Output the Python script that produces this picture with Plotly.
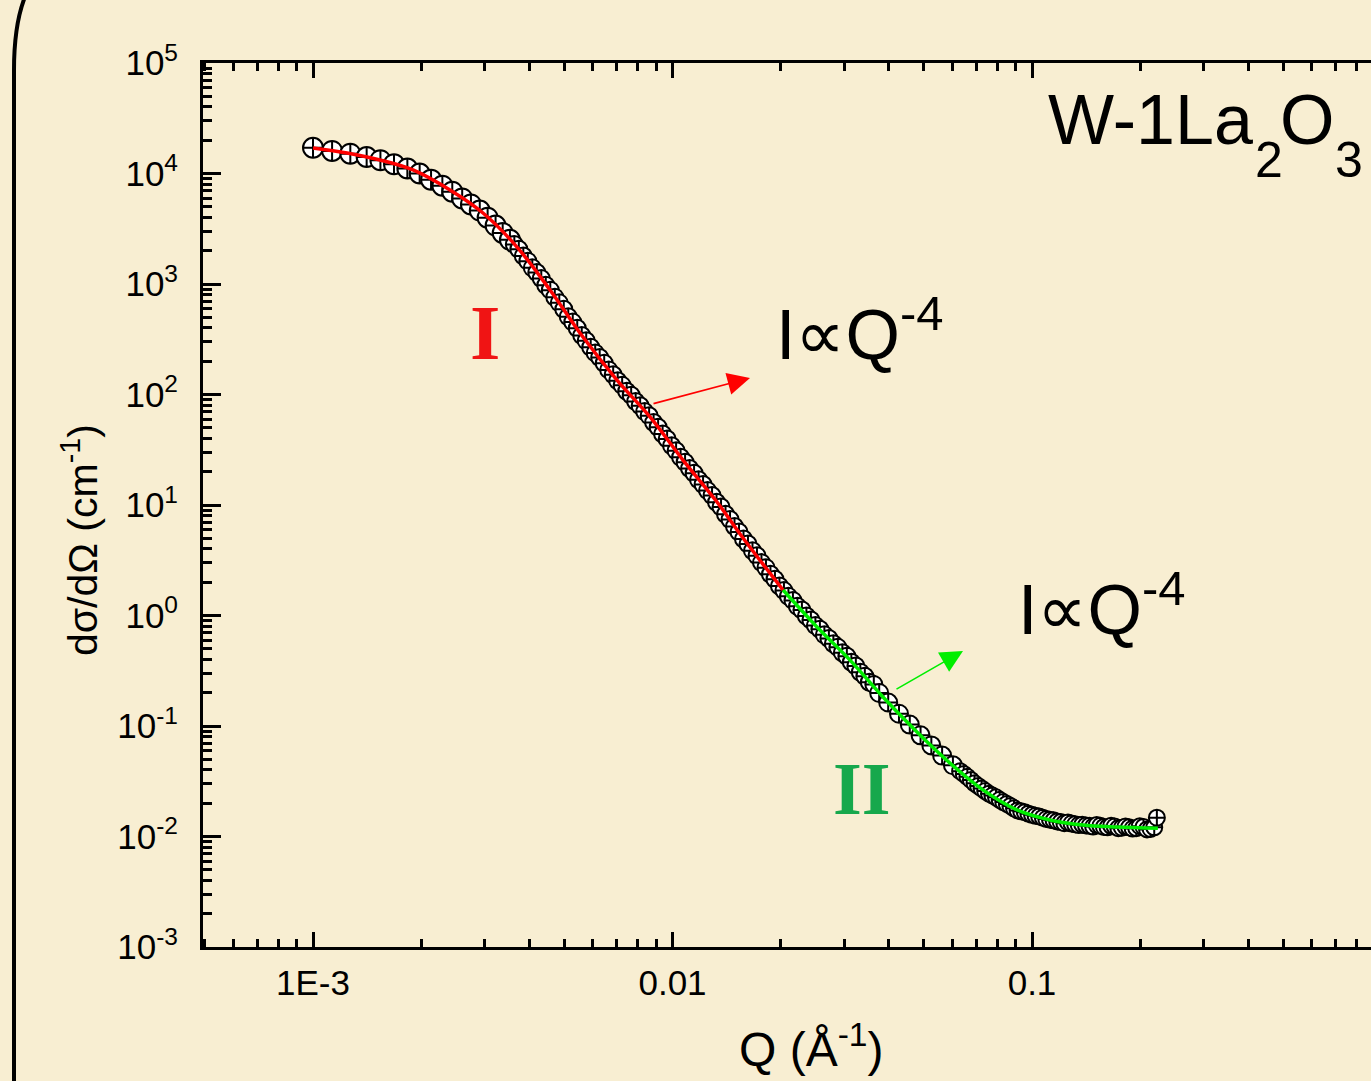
import plotly.graph_objects as go

# ---------------- data ----------------
# low-Q set (large circles)
q_low = [0.00100, 0.00113, 0.00127, 0.00141, 0.00154, 0.00168, 0.00183, 0.00198, 0.00213,
         0.00229, 0.00244, 0.00260, 0.00275, 0.00291, 0.00306, 0.00322, 0.00337, 0.00353]
i_low = [17100, 16000, 15100, 14100, 13200, 12150, 11100, 10000, 8800,
         7750, 6850, 5950, 5250, 4620, 3980, 3380, 2900, 2510]

# mid-Q dense set
q_mid = [0.003631, 0.003737, 0.003846, 0.003958, 0.004074, 0.004193, 0.004315, 0.004441, 0.004571,
         0.004705, 0.004842, 0.004984, 0.005129, 0.005279, 0.005433, 0.005592, 0.005754, 0.005922,
         0.006095, 0.006273, 0.006457, 0.006646, 0.006839, 0.007039, 0.007244, 0.007456, 0.007674,
         0.007898, 0.008128, 0.008366, 0.008610, 0.008861, 0.009120, 0.009387, 0.009661, 0.009943,
         0.010233, 0.010532, 0.010839, 0.011156, 0.011482, 0.011817, 0.012162, 0.012517, 0.012882,
         0.013258, 0.013646, 0.014044, 0.014454, 0.014877, 0.015311, 0.015758, 0.016218, 0.016692,
         0.017179, 0.017681, 0.018197, 0.018728, 0.019275, 0.019837, 0.020417, 0.021013, 0.021627,
         0.022258, 0.022909, 0.023578, 0.024266, 0.024974, 0.025704, 0.026454, 0.027227, 0.028021,
         0.028840, 0.029682, 0.030549, 0.031441, 0.032359, 0.033303, 0.034277, 0.035278, 0.036308]
i_mid = [2280, 2060, 1790, 1610, 1400, 1270, 1120, 975, 880,
         760, 675, 590, 505, 452, 398, 342, 306, 268,
         238, 216, 192, 167, 151, 133, 121, 107, 98.5,
         86.5, 79.2, 70.0, 64.1, 55.8, 50.6, 43.9, 39.6, 34.4,
         31.0, 27.0, 24.4, 21.4, 19.4, 16.9, 15.3, 13.5, 12.2,
         10.6, 9.60, 8.25, 7.40, 6.38, 5.70, 4.93, 4.43, 3.85,
         3.47, 3.01, 2.71, 2.36, 2.13, 1.85, 1.68, 1.49, 1.37,
         1.21, 1.12, 0.99, 0.91, 0.81, 0.75, 0.668, 0.62, 0.555,
         0.515, 0.46, 0.428, 0.378, 0.349, 0.307, 0.282, 0.249, 0.238]

# sparse set
q_sparse = [0.03758, 0.03981, 0.04266, 0.04571, 0.04898, 0.05248, 0.05623, 0.06026]
i_sparse = [0.199, 0.163, 0.129, 0.103, 0.0823, 0.0667, 0.0540, 0.0441]

# high-Q dense set
q_high = [0.0631, 0.0646, 0.0661, 0.0676, 0.0692, 0.0708, 0.0724, 0.0741, 0.0759, 0.0776,
          0.0794, 0.0813, 0.0832, 0.0851, 0.0871, 0.0891, 0.0912, 0.0933, 0.0955, 0.0977,
          0.1000, 0.1023, 0.1047, 0.1072, 0.1096, 0.1122, 0.1148, 0.1175, 0.1202, 0.1230,
          0.1259, 0.1288, 0.1318, 0.1349, 0.1380, 0.1413, 0.1445, 0.1479, 0.1514, 0.1549,
          0.1585, 0.1622, 0.1660, 0.1698, 0.1738, 0.1778, 0.1820, 0.1862, 0.1905, 0.1950,
          0.1995, 0.2042, 0.2089, 0.2138, 0.2188, 0.2225]
i_high = [0.0390, 0.0368, 0.0347, 0.0325, 0.0303, 0.0287, 0.0272, 0.0258, 0.0244, 0.0235,
          0.0226, 0.0215, 0.0205, 0.0197, 0.0189, 0.0180, 0.0172, 0.0169, 0.0166, 0.0161,
          0.0157, 0.0154, 0.0152, 0.0148, 0.0144, 0.0142, 0.0140, 0.0137, 0.0135, 0.0132,
          0.0134, 0.0131, 0.0129, 0.0127, 0.0128, 0.0126, 0.0125, 0.0123, 0.0127, 0.0125,
          0.0122, 0.0121, 0.0125, 0.0123, 0.0119, 0.0120, 0.0123, 0.0121, 0.0118, 0.0119,
          0.0124, 0.0122, 0.0116, 0.0117, 0.0121, 0.0148]

# fits
q_fit_I = [0.00100, 0.001244, 0.001536, 0.001897, 0.002404, 0.002971, 0.003694, 0.004563,
           0.005636, 0.007008, 0.008659, 0.010695, 0.01330, 0.01571, 0.02030]
i_fit_I = [17020, 15340, 13250, 10760, 7090, 4390, 2160, 883,
           331, 135, 62.6, 25.5, 10.64, 5.02, 1.70]
q_fit_II = [0.02030, 0.02523, 0.03117, 0.03850, 0.04787, 0.05913, 0.07304, 0.09084,
            0.1122, 0.1386, 0.1723, 0.2240]
i_fit_II = [1.70, 0.787, 0.395, 0.183, 0.0883, 0.0462, 0.0264, 0.0174,
            0.0141, 0.0127, 0.0122, 0.0119]

x_tick_vals = [0.001, 0.01, 0.1]
x_tick_text = ["1E-3", "0.01", "0.1"]
y_exponents = [-3, -2, -1, 0, 1, 2, 3, 4, 5]

# ---------------- layout geometry ----------------
W, H = 1371, 1081
ML, MR, MT, MB = 203, 0, 63, 134
PW, PH = W - ML - MR, H - MT - MB


def px(x):
    return (x - ML) / PW


def py(y):
    return (H - MB - y) / PH


BG = "#F8EED2"
FONT = "Arial, Liberation Sans, sans-serif"

fig = go.Figure()

marker_line = dict(color="black", width=2)
fig.add_trace(go.Scatter(x=q_low, y=i_low, mode="markers",
                         marker=dict(symbol="circle-cross", size=20, color="white", line=marker_line),
                         showlegend=False))
fig.add_trace(go.Scatter(x=q_mid, y=i_mid, mode="markers",
                         marker=dict(symbol="circle-cross", size=17, color="white", line=marker_line),
                         showlegend=False))
fig.add_trace(go.Scatter(x=q_sparse, y=i_sparse, mode="markers",
                         marker=dict(symbol="circle-cross", size=18, color="white", line=marker_line),
                         showlegend=False))
fig.add_trace(go.Scatter(x=q_high, y=i_high, mode="markers",
                         marker=dict(symbol="circle-cross", size=16, color="white", line=marker_line),
                         showlegend=False))
fig.add_trace(go.Scatter(x=q_fit_I, y=i_fit_I, mode="lines",
                         line=dict(color="#FF0000", width=3.5, shape="spline"), showlegend=False))
fig.add_trace(go.Scatter(x=q_fit_II, y=i_fit_II, mode="lines",
                         line=dict(color="#00EE00", width=3.5, shape="spline"), showlegend=False))

minor_x = [m * 10 ** e for e in range(-4, 1) for m in range(2, 10)]
minor_y = [m * 10.0 ** e for e in range(-3, 5) for m in range(2, 10)]

fig.update_xaxes(
    type="log", range=[-3.306, -0.057],
    showline=True, linewidth=3, linecolor="black", mirror="ticks",
    ticks="inside", ticklen=15, tickwidth=3, tickcolor="black",
    tickvals=x_tick_vals, ticktext=x_tick_text,
    tickfont=dict(family=FONT, size=35, color="black"),
    ticklabelstandoff=3,
    showgrid=False, zeroline=False,
    minor=dict(tickvals=minor_x, ticks="inside", ticklen=8, tickwidth=2.5,
               tickcolor="black", showgrid=False),
)
fig.update_yaxes(
    type="log", range=[-3, 5],
    showline=True, linewidth=3, linecolor="black", mirror=False,
    ticks="inside", ticklen=18, tickwidth=3, tickcolor="black",
    tickvals=[10.0 ** e for e in y_exponents],
    ticktext=["10<sup>%d</sup>" % e for e in y_exponents],
    tickfont=dict(family=FONT, size=35, color="black"),
    ticklabelstandoff=15,
    showgrid=False, zeroline=False,
    minor=dict(tickvals=minor_y, ticks="inside", ticklen=9, tickwidth=2.5,
               tickcolor="black", showgrid=False),
)


def label(text, x, y, size, color="black", family=FONT, xanchor="left", angle=0):
    return dict(text=text, x=px(x), y=py(y), xref="paper", yref="paper",
                xanchor=xanchor, yanchor="middle", showarrow=False, textangle=angle,
                font=dict(family=family, size=size, color=color))


SERIF = "Liberation Serif, Times New Roman, serif"
annotations = [
    # axis titles
    label("Q (Å<sup>-1</sup>)", 812, 1046, 48, xanchor="center"),
    label("dσ/dΩ (cm<sup>-1</sup>)", 80, 540, 41, xanchor="center", angle=-90),
    # sample name W-1La2O3 (subscripts placed lower, as in the original)
    label("W-1La", 1046, 120, 70),
    label("2", 1253, 160, 50),
    label("O", 1278, 120, 70),
    label("3", 1333, 160, 50),
    # power-law labels
    label("I∝Q<sup>-4</sup>", 774, 330, 70),
    label("I∝Q<sup>-4</sup>", 1016, 605, 70),
    # region labels
    label("<b>I</b>", 485, 332, 78, color="#F01414", family=SERIF, xanchor="center"),
    label("<b>II</b>", 862, 789, 74, color="#16A84C", family=SERIF, xanchor="center"),
    # arrows
    dict(text="", x=px(750), y=py(378), xref="paper", yref="paper", ax=-98, ay=26,
         showarrow=True, arrowhead=2, arrowsize=2.8, arrowwidth=1.6, arrowcolor="#FF0000"),
    dict(text="", x=px(963), y=py(651), xref="paper", yref="paper", ax=-68, ay=39,
         showarrow=True, arrowhead=2, arrowsize=2.8, arrowwidth=1.6, arrowcolor="#00EE00"),
]

frame_path = "M %f,%f L %f,%f C %f,%f %f,%f %f,%f" % (
    px(14), py(1090), px(14), py(70),
    px(14), py(35), px(18), py(12), px(27), py(-8))

fig.update_layout(
    width=W, height=H,
    margin=dict(l=ML, r=MR, t=MT, b=MB, pad=0),
    paper_bgcolor=BG, plot_bgcolor=BG,
    showlegend=False,
    annotations=annotations,
    shapes=[dict(type="path", path=frame_path, xref="paper", yref="paper",
                 line=dict(color="black", width=4), layer="above")],
)

fig.write_html(
    "out.html",
    config={"displayModeBar": False},
    post_script="document.body.style.margin='0px';document.body.style.padding='0px';"
                "document.documentElement.style.overflow='hidden';document.body.style.background='%s';" % BG,
)
